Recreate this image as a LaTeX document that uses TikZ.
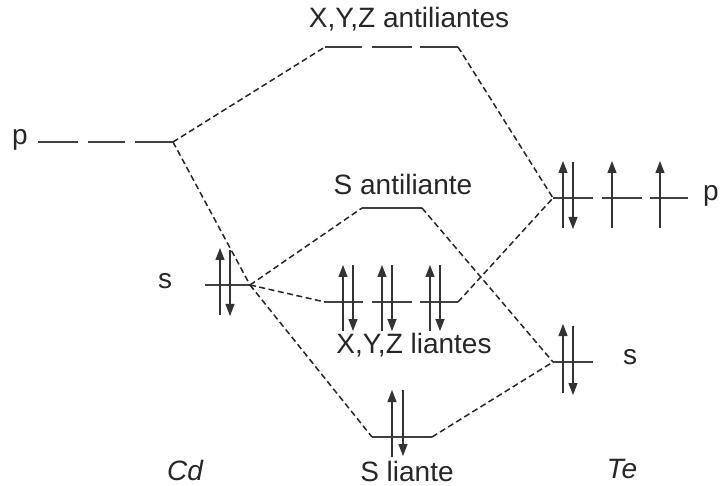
\documentclass[tikz,border=0pt]{standalone}
\usepackage{fontspec}
\setmainfont{Liberation Sans}
\usetikzlibrary{arrows.meta}

\begin{document}
\begin{tikzpicture}[x=1pt, y=-1pt,
  lvl/.style={line width=1.2pt, black!75},
  link/.style={line width=1.5pt, dash pattern=on 6pt off 3.5pt, black!85},
  spin/.style={line width=1.2pt, black!80, -{Triangle[length=12pt,width=9pt]}},
  lbl/.style={font=\fontsize{28}{30}\selectfont, text=black!85, inner sep=0pt}]
\useasboundingbox (0,0) rectangle (720,486);
% Cd
\foreach \a/\b in {38/78, 88/125, 135/173}
  \draw[lvl] (\a,142) -- (\b,142);
\coordinate (cdp) at (173,142);
\node[lbl] (cdplab) at (20,140) {p};
\draw[lvl] (205,285) -- (250,285);
\coordinate (cds) at (250,285);
\node[lbl] (cdslab) at (165,281) {s};
\draw[spin] (220,315) -- (220,248);
\draw[spin] (230,250) -- (230,316);
\node[lbl, font=\fontsize{28}{30}\selectfont\itshape] (cd) at (185,470) {Cd};
% X,Y,Z antiliantes
\foreach \a/\b in {325/362, 372/412, 420/458}
  \draw[lvl] (\a,47) -- (\b,47);
\coordinate (xaL) at (325,47);
\coordinate (xaR) at (458,47);
\node[lbl] (xalab) at (409,19) {X,Y,Z antiliantes};
% S antiliante
\draw[lvl] (362,208) -- (422,208);
\coordinate (saL) at (362,208);
\coordinate (saR) at (422,208);
\node[lbl] (salab) at (403,184) {S antiliante};
% X,Y,Z liantes
\foreach \a/\b in {325/363, 372/412, 420/458}
  \draw[lvl] (\a,302) -- (\b,302);
\foreach \u in {343, 382, 430} {
  \draw[spin] (\u,331) -- (\u,265);
  \draw[spin] (\u+10,265) -- (\u+10,331);
}
\coordinate (xlL) at (325,302);
\coordinate (xlR) at (458,302);
\node[lbl] (xllab) at (414,345) {X,Y,Z liantes};
% S liante
\draw[lvl] (372,437) -- (432,437);
\draw[spin] (392,457) -- (392,390);
\draw[spin] (403,390) -- (403,456);
\coordinate (slL) at (372,437);
\coordinate (slR) at (432,437);
\node[lbl] (sllab) at (407,471) {S liante};
% Te
\foreach \a/\b in {553/593, 602/642, 650/688}
  \draw[lvl] (\a,198) -- (\b,198);
\draw[spin] (563,228) -- (563,161);
\draw[spin] (573,162) -- (573,229);
\draw[spin] (612,228) -- (612,161);
\draw[spin] (660,228) -- (660,161);
\coordinate (tep) at (553,198);
\node[lbl, anchor=west] (teplab) at (703,196) {p};
\draw[lvl] (553,362) -- (593,362);
\draw[spin] (563,393) -- (563,324);
\draw[spin] (573,326) -- (573,395);
\coordinate (tes) at (553,362);
\node[lbl] (teslab) at (630,357) {s};
\node[lbl, font=\fontsize{28}{30}\selectfont\itshape] (te) at (622,469) {Te};
% enlaces
\draw[link] (cdp) -- (xaL);
\draw[link] (cdp) -- (cds);
\draw[link] (cds) -- (saL);
\draw[link] (cds) -- (xlL);
\draw[link] (cds) -- (slL);
\draw[link] (xaR) -- (tep);
\draw[link] (xlR) -- (tep);
\draw[link] (saR) -- (tes);
\draw[link] (slR) -- (tes);
\end{tikzpicture}
\end{document}
